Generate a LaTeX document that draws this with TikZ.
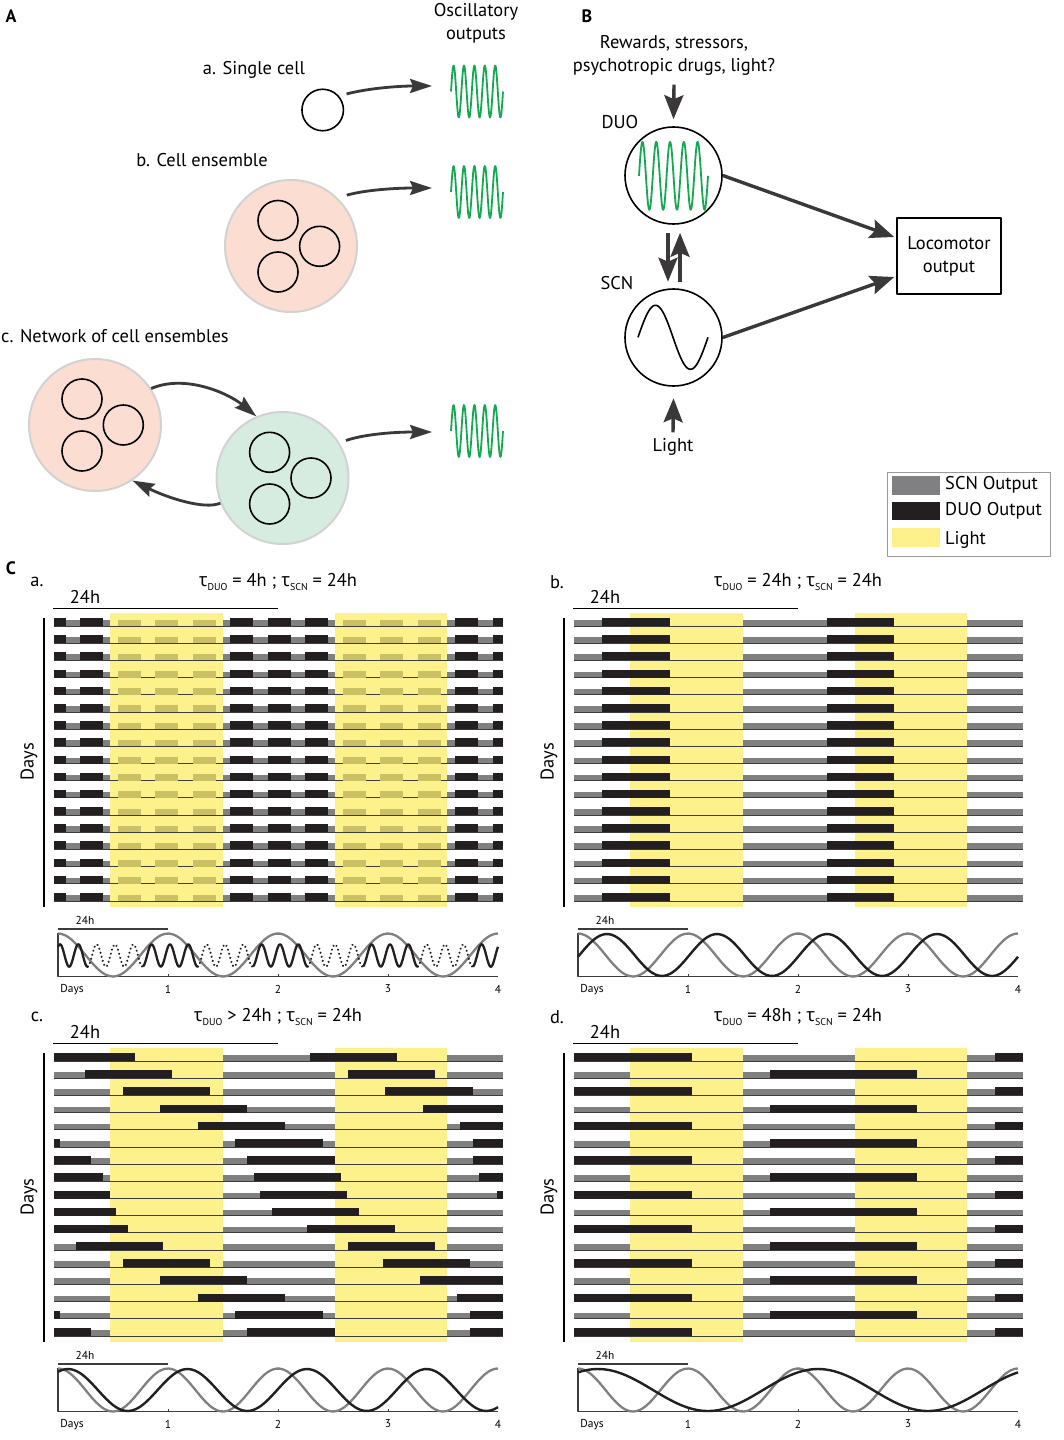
\documentclass[tikz,border=0pt]{standalone}
\usepackage{fontspec}
\setmainfont{PT Sans}
\newfontfamily\grk{Open Sans}
\usetikzlibrary{arrows.meta}
\definecolor{lightyel}{HTML}{FCF18A}
\definecolor{khaki}{HTML}{CAC164}
\definecolor{scngray}{HTML}{808083}
\definecolor{duoblack}{HTML}{231F20}
\definecolor{pinkfill}{HTML}{FBDDD2}
\definecolor{greenfill}{HTML}{D6ECE0}
\definecolor{ringgray}{HTML}{D2D2D2}
\definecolor{wavegreen}{HTML}{14A850}
\definecolor{arrowgray}{HTML}{3A3839}
\definecolor{lineDark}{HTML}{3C3C3C}
\definecolor{boxgray}{HTML}{9A9A9A}
\newcommand{\tsub}[1]{\raisebox{-3.5bp}{\fontsize{10}{10}\selectfont #1}}
\newcommand{\tauchar}{{\grk τ}}
\begin{document}
\begin{tikzpicture}[x=1bp,y=-1bp,line join=round,
  txt/.style={font=\fontsize{18.5}{23}\selectfont,inner sep=0pt},
  smalltxt/.style={font=\fontsize{11.5}{13}\selectfont,inner sep=0pt},
  panellab/.style={font=\fontsize{18}{20}\selectfont\bfseries,inner sep=0pt},
  cell/.style={circle,draw=black,line width=1.6bp,minimum size=40bp,inner sep=0pt},
  ensemble/.style={circle,draw=ringgray,line width=2bp,minimum size=132bp,inner sep=0pt},
  osc/.style={circle,draw=black,line width=1.6bp,minimum size=97bp,inner sep=0pt},
  curvearrow/.style={draw=arrowgray,line width=2.8bp,-{Stealth[length=22bp,width=14bp,inset=3bp]}},
  bigarrow/.style={draw=arrowgray,line width=3.4bp,-{Stealth[length=24bp,width=19bp,inset=4bp]}},
  greenwave/.style={wavegreen,line width=1.8bp},
  rowline/.style={draw=lineDark,line width=0.9bp},
  dotline/.style={dash pattern=on 0.01bp off 4.2bp,line cap=round},
]
\useasboundingbox (0,0) rectangle (1063,1440);
\fill[white] (0,0) rectangle (1063,1440);
%% panel A
\node (lab_A) at (11,16) [panellab] {A};
\node (osc_title) at (476,23) [txt,align=center] {Oscillatory\\outputs};
\node (lab_single) at (254,70) [txt] {a. Single cell};
\node (lab_ens) at (202,160) [txt] {b. Cell ensemble};
\node (lab_net) at (1,336) [txt,anchor=west] {c. Network of cell ensembles};
\node (cell_a) at (322.7,110) [cell,minimum size=41.5bp] {};
\node (ens_b) at (291,246) [ensemble,fill=pinkfill] {};
\node (ens_b1) at (278,220.5) [cell] {};
\node (ens_b2) at (319.6,246.3) [cell] {};
\node (ens_b3) at (278,272) [cell] {};
\node (ens_c1) at (95,425) [ensemble,fill=pinkfill] {};
\node (ens_c11) at (82,399) [cell] {};
\node (ens_c12) at (123.3,425) [cell] {};
\node (ens_c13) at (82,451) [cell] {};
\node (ens_c2) at (282.5,478) [ensemble,fill=greenfill] {};
\node (ens_c21) at (269.6,452.3) [cell] {};
\node (ens_c22) at (311,478) [cell] {};
\node (ens_c23) at (269.6,504) [cell] {};
\coordinate (out_a) at (432,86);
\coordinate (out_b) at (432,188);
\coordinate (out_c) at (432,432);
\draw[curvearrow] ([shift={(6bp,4bp)}]cell_a.34) .. controls (365,89) and (395,86) .. (out_a);
\draw[curvearrow] ([shift={(6bp,6bp)}]ens_b.42) .. controls (365,190) and (395,188) .. (out_b);
\draw[curvearrow] (ens_c1.33) .. controls (185,374) and (228,393) .. (ens_c2.113);
\draw[curvearrow] (ens_c2.202) .. controls (205,510) and (168,498) .. (ens_c1.-56);
\draw[curvearrow] ([shift={(6bp,3bp)}]ens_c2.31) .. controls (365,434) and (395,432) .. (out_c);
\foreach \ym in {91.5,192,431}
  \draw[greenwave] plot[domain=451:503,samples=130] (\x,{\ym-26*sin((\x-451)/10.4*360)});
%% panel B
\node (lab_B) at (587,16) [panellab] {B};
\node (rewards) at (674,55.5) [txt,align=center] {Rewards, stressors,\\psychotropic drugs, light?};
\node (duo) at (673.5,175.5) [osc] {};
\node (scn) at (673.5,337.5) [osc] {};
\node (duo_lab) at (620,122) [txt] {DUO};
\node (scn_lab) at (617,283) [txt] {SCN};
\node (light) at (673,447) [txt] {Light};
\node (loco) at (949,256) [draw,line width=1.6bp,minimum width=104bp,minimum height=76bp,txt,align=center] {Locomotor\\output};
\draw[greenwave] plot[domain=639:708,samples=160] (\x,{175.8-34*sin((\x-639)/13.8*360)});
\draw[line width=1.6bp] plot[domain=638:708,samples=80] (\x,{337.3-32*sin((\x-638)/70*360)});
\draw[bigarrow] ([yshift=-9bp]rewards.south) -- ([yshift=7bp]duo.north);
\draw[bigarrow] ([xshift=-5.5bp,yshift=-8bp]duo.south) -- ([xshift=-5.5bp,yshift=6.5bp]scn.north);
\draw[bigarrow] ([xshift=6.5bp,yshift=6.5bp]scn.north) -- ([xshift=6.5bp,yshift=-8bp]duo.south);
\draw[bigarrow] ([yshift=6bp]light.north) -- ([yshift=-11.5bp]scn.south);
\draw[bigarrow] (duo.east) -- ([shift={(-2bp,19bp)}]loco.west);
\draw[bigarrow] (scn.east) -- ([shift={(-2bp,-21bp)}]loco.west);
%% legend
\draw[boxgray,line width=1bp] (887,472) rectangle (1050.5,556.5);
\fill[scngray] (891.5,476) rectangle (940,495);
\fill[duoblack] (891.5,501.5) rectangle (940,520);
\fill[lightyel] (891.5,528) rectangle (940,547);
\node (leg_scn) at (945,485) [txt,anchor=west] {SCN Output};
\node (leg_duo) at (945,510.7) [txt,anchor=west] {DUO Output};
\node (leg_light) at (945,540) [txt,anchor=west] {Light};
%% panel C
\node (lab_C) at (11,568) [panellab] {C};
\node (title_a) at (278,582) [txt] {\tauchar\tsub{DUO} = 4h ; \tauchar\tsub{SCN} = 24h};
\node (title_b) at (798,582) [txt] {\tauchar\tsub{DUO} = 24h ; \tauchar\tsub{SCN} = 24h};
\node (title_c) at (278,1017) [txt] {\tauchar\tsub{DUO} > 24h ; \tauchar\tsub{SCN} = 24h};
\node (title_d) at (798,1017) [txt] {\tauchar\tsub{DUO} = 48h ; \tauchar\tsub{SCN} = 24h};
\foreach \dx/\dy/\pn in {0/0/a,520/0/b,0/435/c,520/435/d}{
\begin{scope}[shift={(\dx,\dy)}]
  \node (sub_\pn) at (37,582) [txt] {\pn.};
  \node (days_\pn) at (29,762) [txt,rotate=90] {Days};
  \draw[line width=2bp] (44,618) -- (44,907);
  \node (top24_\pn) at (85,597) [txt] {24h};
  \draw[line width=1.6bp] (53,608.5) -- (278,608.5);
  \fill[lightyel] (110,612.5) rectangle (222.5,906.5);
  \fill[lightyel] (334.5,612.5) rectangle (447,906.5);
  \foreach \i in {0,...,16}{
    \pgfmathsetmacro{\yb}{626+17.19*\i}
    \foreach \a/\b in {54/110,222.5/334.5,447/503}
      \fill[scngray] (\a,\yb-6) rectangle (\b,\yb);
    \draw[rowline] (54,\yb) -- (503,\yb);
  }
  % activity plot
  \draw[line width=1.2bp,lineDark] (58,929) -- (168,929);
  \node (low24_\pn) at (85,920) [smalltxt] {24h};
  \draw[line width=1.2bp,lineDark] (58,933) -- (58,976.5) -- (498,976.5);
  \foreach \d in {1,2,3}
    \draw[line width=1bp,lineDark] (58+110*\d,976.5) -- ++(0,-2.5);
  \node (ax_\pn) at (72,990) [smalltxt] {Days};
  \foreach \d in {1,...,4}
    \node (tick_\pn\d) at (58+110*\d,989) [smalltxt] {\d};
  \draw[scngray,line width=2.3bp] plot[domain=58:498,samples=120,smooth] (\x,{955-21.5*cos((\x-58)/110*360)});
\end{scope}
}
% a: DUO bars, 4h period
\foreach \i in {0,...,16}{
  \pgfmathsetmacro{\yb}{626+17.19*\i}
  \foreach \k in {-1,0,4,5,6,10,11}
    \fill[duoblack] ({max(54,80+37.5*\k)},\yb-8) rectangle ({min(503,103+37.5*\k)},\yb);
  \foreach \k in {1,2,3,7,8,9}
    \fill[khaki] ({80+37.5*\k},\yb-6.5) rectangle ({103+37.5*\k},\yb);
}
\foreach \a/\b/\st in {58/88/solid,88/143/dotline,143/198/solid,198/253/dotline,253/308/solid,308/363/dotline,363/418/solid,418/473/dotline,473/498/solid}
  \draw[duoblack,line width=2.3bp,\st] plot[domain=\a:\b,samples=50,smooth] (\x,{955.5-11.2*cos((\x-60)/18.333*360)});
% b: DUO bars, 24h period
\begin{scope}[shift={(520,0)}]
\foreach \i in {0,...,16}{
  \pgfmathsetmacro{\yb}{626+17.19*\i}
  \fill[duoblack] (82,\yb-8) rectangle (150,\yb);
  \fill[duoblack] (306.5,\yb-8) rectangle (374,\yb);
}
\draw[duoblack,line width=2.4bp] plot[domain=58:498,samples=120,smooth] (\x,{955-21*cos((\x-87)/110*360)});
\end{scope}
% c: DUO bars, period above 24h
\begin{scope}[shift={(0,435)}]
\foreach \i/\bars in {0/{54/135,310/397},1/{85/172,348/435},2/{123/210,385/473},3/{160/247,423/503},4/{198/285,460/503},5/{54/60,235/323,473/503},6/{54/91,247/335,473/503},7/{54/103,254/341,479/503},8/{54/110,260/347,497/503},9/{54/116,272/359},10/{54/128,307/395},11/{76/163,348/435},12/{123/210,383/470},13/{160/247,420/503},14/{198/285,457/503},15/{54/60,235/323,470/503},16/{54/91,247/335,470/503}}{
  \pgfmathsetmacro{\yb}{626+17.19*\i}
  \foreach \a/\b in \bars
    \fill[duoblack] (\a,\yb-8) rectangle (\b,\yb);
}
\draw[duoblack,line width=2.4bp] plot[domain=58:498,samples=120,smooth] (\x,{955-21*cos((\x-68)/119.5*360)});
\end{scope}
% d: DUO bars, 48h period
\begin{scope}[shift={(520,435)}]
\foreach \i in {0,2,...,16}{
  \pgfmathsetmacro{\yb}{626+17.19*\i}
  \fill[duoblack] (54,\yb-8) rectangle (171.5,\yb);
  \fill[duoblack] (475,\yb-8) rectangle (503,\yb);
}
\foreach \i in {1,3,...,15}{
  \pgfmathsetmacro{\yb}{626+17.19*\i}
  \fill[duoblack] (250,\yb-8) rectangle (397,\yb);
}
\draw[duoblack,line width=2.4bp] plot[domain=58:498,samples=120,smooth] (\x,{955-21*cos((\x-78)/220*360)});
\end{scope}
\end{tikzpicture}
\end{document}
